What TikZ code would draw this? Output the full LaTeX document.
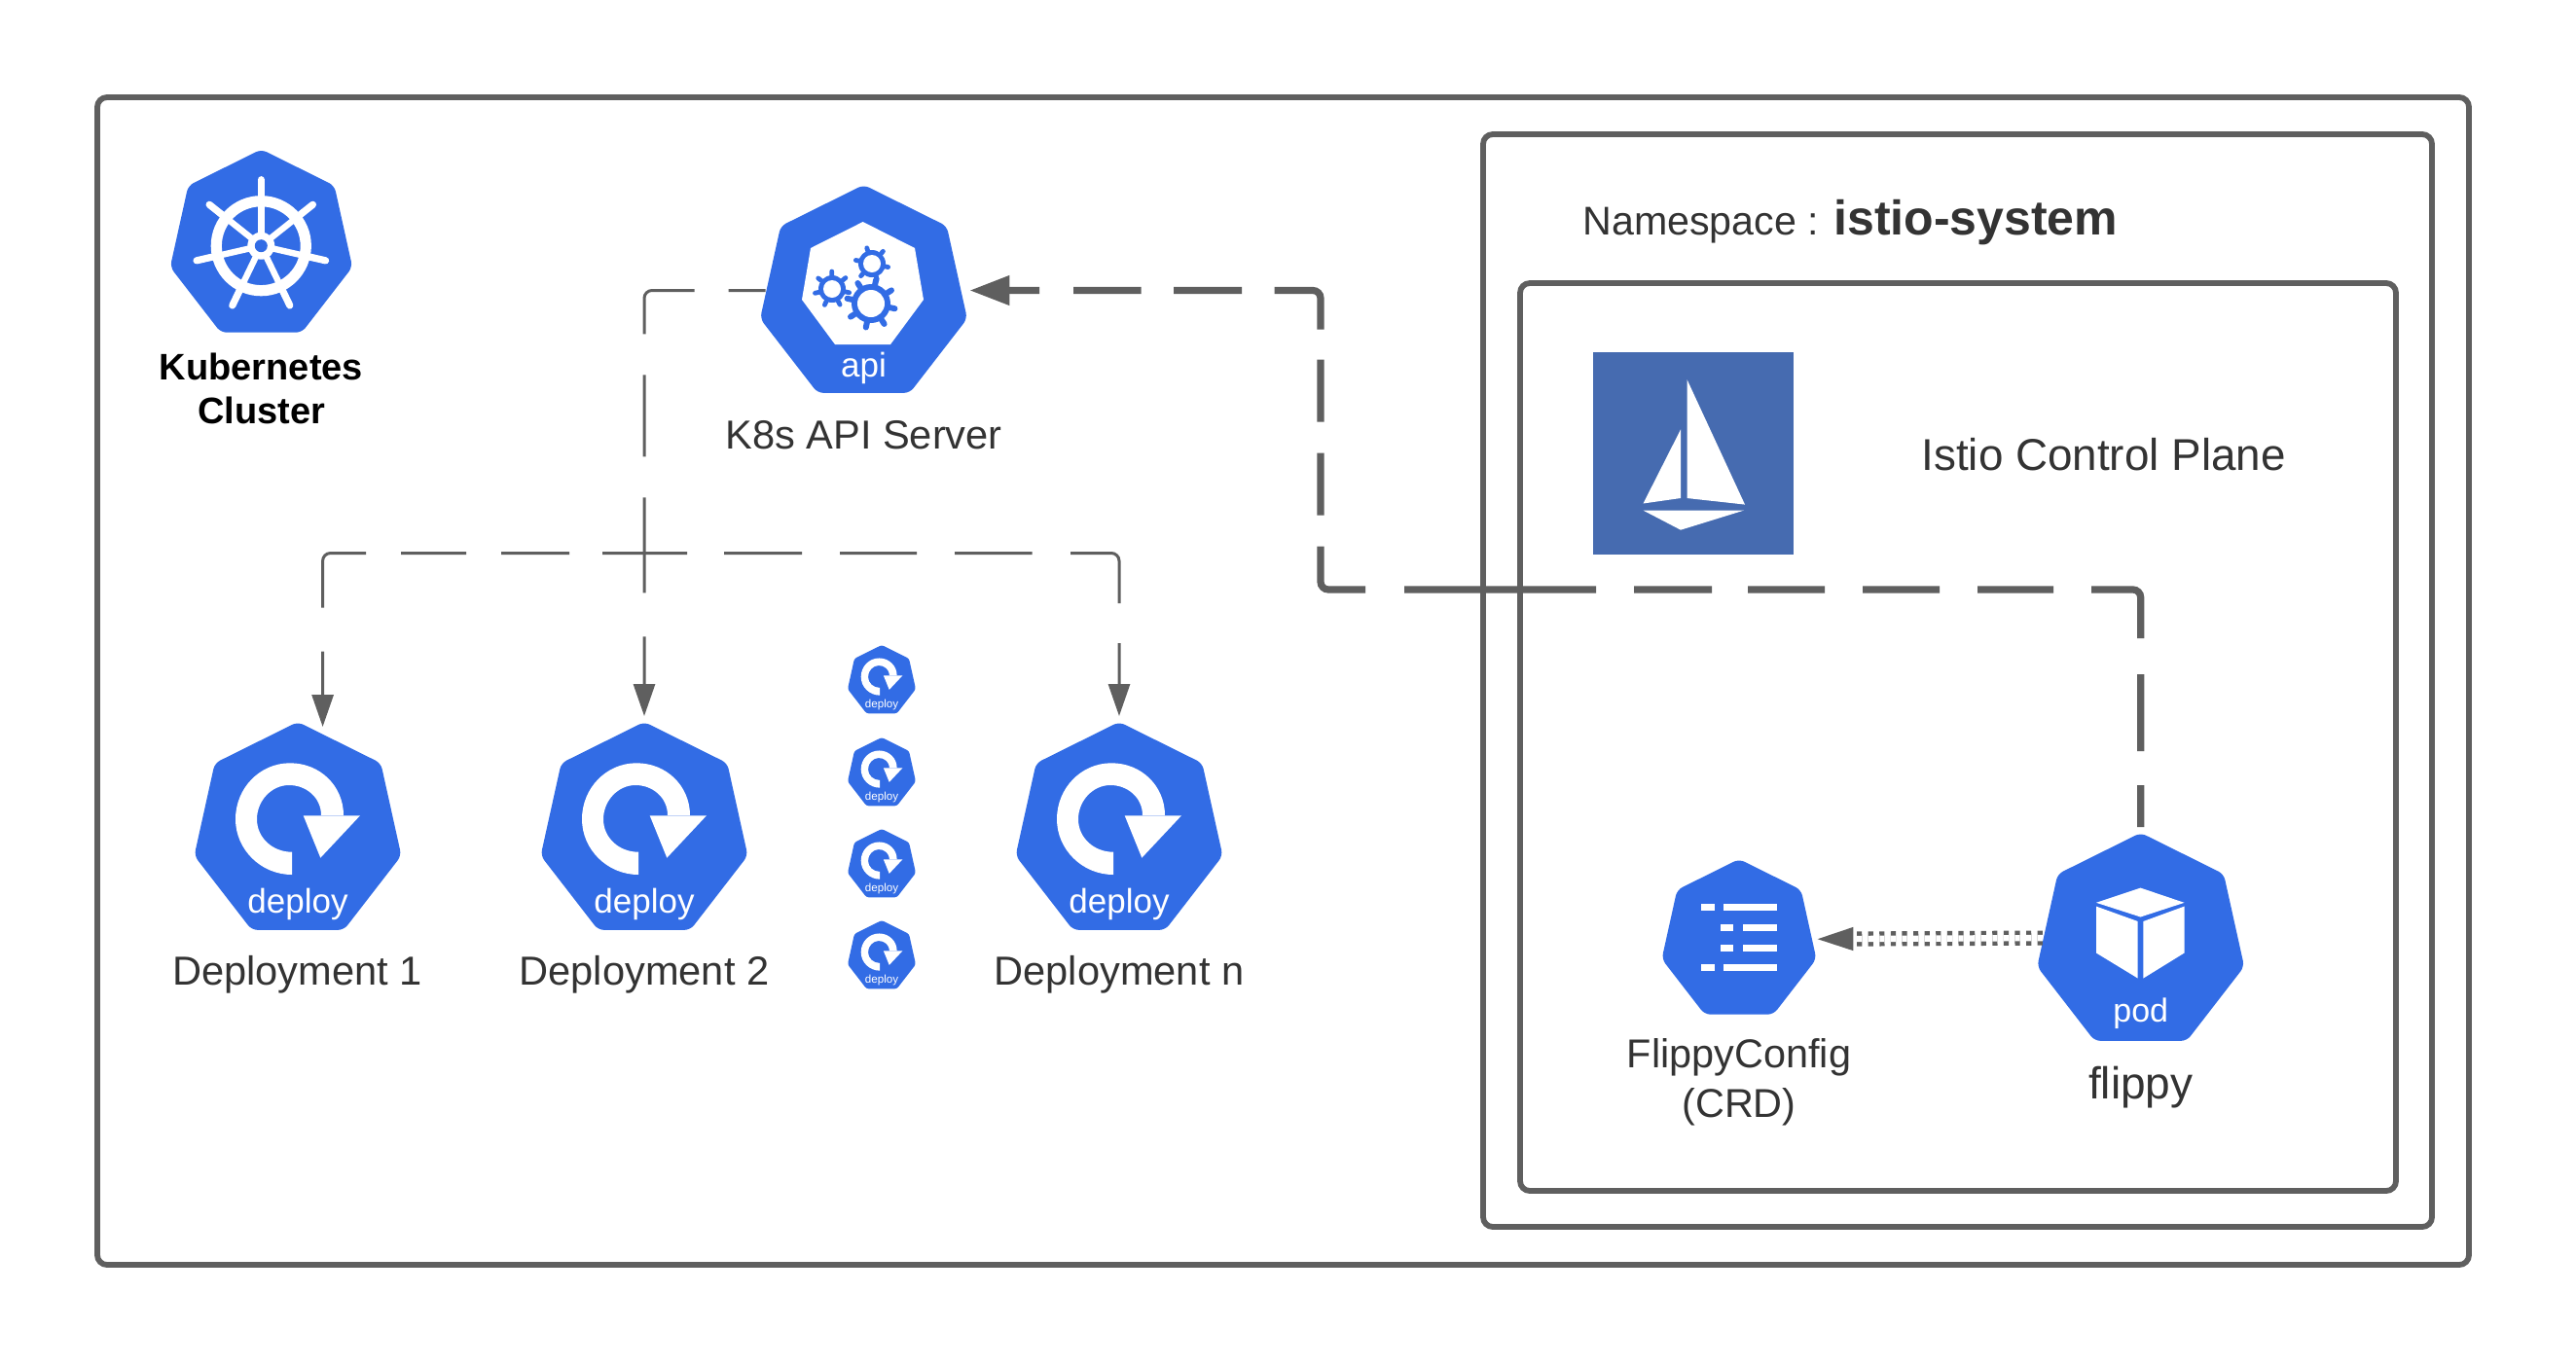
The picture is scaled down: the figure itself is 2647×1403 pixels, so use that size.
\documentclass[tikz,border=0pt]{standalone}
\usepackage{fontspec}
\setmainfont{Liberation Sans}
\usetikzlibrary{shapes.geometric,arrows.meta}
\definecolor{kube}{HTML}{326CE5}
\definecolor{istioblue}{HTML}{466BB0}
\definecolor{linegray}{HTML}{5F5F5F}
\definecolor{ink}{HTML}{333333}
\tikzset{
  hept/.style={regular polygon,regular polygon sides=7,fill=kube,draw=none,inner sep=0pt,outer sep=0pt,minimum size=#1,xscale=0.97,rounded corners=3pt},
  panel/.style={draw=linegray,line width=2.9pt,rounded corners=5pt,fill=none,inner sep=0pt,outer sep=0pt},
  txt/.style={font=\fontsize{#1}{#1}\selectfont,text=ink,inner sep=0pt,anchor=base},
  onblue/.style={font=\fontsize{#1}{#1}\selectfont,text=white,inner sep=0pt,anchor=base},
  bold/.style={font=\fontsize{#1}{#1}\selectfont\bfseries,text=black,inner sep=0pt,anchor=base},
  thinconn/.style={draw=linegray,line width=1.5pt,rounded corners=4pt,-{Triangle[length=16.5pt,width=11pt]}},
  thickconn/.style={draw=linegray,line width=3.6pt,rounded corners=4pt,-{Triangle[length=20.5pt,width=14.5pt]}},
  dotconn/.style={draw=linegray,line width=2.2pt,double=white,double distance=3.2pt,dash pattern=on 2.6pt off 3.2pt,-{Triangle[length=18.5pt,width=11.5pt]}},
}
\newcommand{\deployicon}[5]{%
  \begin{scope}[shift={(#1,#2)},scale=#3]
    \fill[white] (-6,44) .. controls (-38,44) and (-64,18) .. (-64,-13) .. controls (-64,-45) and (-39,-70.7) .. (-8,-70.7) .. controls (23,-70.7) and (47,-47) .. (47,-17) -- (24,-17) .. controls (24,-35) and (9,-48) .. (-9,-48) .. controls (-27,-48) and (-42,-32) .. (-42,-13) .. controls (-42,6) and (-26,20.7) .. (-6,20.7) -- cycle;
    \fill[white] (5.7,-16.7) -- (64,-16.7) -- (23.3,26.7) -- cycle;
  \end{scope}
  \node[onblue=#4] (#5) at (#1,#2+83*#3) {deploy};
}
\newcommand{\gearicon}[7]{% x y hole body outer teeth toothwidth
  \fill[kube] (#1,#2) circle[radius=#4];
  \foreach \t in {1,...,#6}{
    \draw[kube,line width=#7,line cap=round] (#1,#2) ++({\t*360/#6+12}:#4) -- ++({\t*360/#6+12}:{#5-#4-2});
  }
  \fill[white] (#1,#2) circle[radius=#3];
}
\begin{document}
\begin{tikzpicture}[x=0.5pt,y=-0.5pt]
\useasboundingbox (0,0) rectangle (2647,1403);
\fill[white] (0,0) rectangle (2647,1403);

% panels
\node[panel,minimum width=1218.5pt,minimum height=600pt] (cluster) at (1318.5,700) {};
\node[panel,minimum width=487.5pt,minimum height=561.5pt] (namespace) at (2011.5,699.5) {};
\node[panel,minimum width=450pt,minimum height=466.5pt] (plane) at (2012,757.5) {};

% kubernetes logo
\node[hept=99pt] (k8s) at (268.5,252.5) {};
\begin{scope}[shift={(268.3,252.7)}]
  \draw[white,line width=5.6pt] (0,0) circle[radius=46];
  \foreach \k in {0,...,6}{
    \draw[white,line width=3.2pt] (0,0) -- ({-90+\k*360/7}:56);
    \draw[white,line width=3.6pt,line cap=round] ({-90+\k*360/7}:50) -- ({-90+\k*360/7}:68);
  }
  \fill[white] (0,0) circle[radius=14];
  \fill[kube] (0,0) circle[radius=6.5];
\end{scope}
\node[bold=19] (kubetext) at (268.5,390) {Kubernetes};
\node[bold=19] (clustertext) at (268.5,435) {Cluster};

% api server
\node[hept=112.5pt] (api) at (887.5,302.5) {};
\fill[white] (886.7,228) -- (940,255) -- (949,308) -- (915,354) -- (858,354) -- (824,308) -- (833,255) -- cycle;
\gearicon{855}{297}{9}{14}{20}{7}{2.4pt}
\gearicon{896}{271}{9}{14}{19}{6}{2.4pt}
\gearicon{895}{312}{14}{20}{27}{8}{3pt}
\node[onblue=17.5] (apilabel) at (887.5,387) {api};
\node[txt=20.8] (apitext) at (887.5,461.5) {K8s API Server};

% deployments
\node[hept=112.5pt] (d1) at (306,854.5) {};
\node[hept=112.5pt] (d2) at (662,854.5) {};
\node[hept=112.5pt] (dn) at (1150,854.5) {};
\deployicon{306}{855}{1}{17.5}{d1label}
\deployicon{662}{855}{1}{17.5}{d2label}
\deployicon{1150}{855}{1}{17.5}{dnlabel}
\node[txt=20.8] (d1text) at (305.5,1012.5) {Deployment 1};
\node[txt=20.8] (d2text) at (662,1012.5) {Deployment 2};
\node[txt=20.8] (dntext) at (1150,1012.5) {Deployment n};

\node[hept=37pt,rounded corners=1.2pt] (s1) at (906,700) {};
\node[hept=37pt,rounded corners=1.2pt] (s2) at (906,795) {};
\node[hept=37pt,rounded corners=1.2pt] (s3) at (906,889) {};
\node[hept=37pt,rounded corners=1.2pt] (s4) at (906,983) {};
\deployicon{906}{700}{0.333}{5.8}{s1label}
\deployicon{906}{795}{0.333}{5.8}{s2label}
\deployicon{906}{889}{0.333}{5.8}{s3label}
\deployicon{906}{983}{0.333}{5.8}{s4label}

% namespace title
\node[txt=20.6,anchor=base west] (nstext) at (1626,241) {Namespace : \fontsize{25}{25}\selectfont\bfseries istio-system};

% istio logo
\node[fill=istioblue,draw=none,minimum width=103pt,minimum height=104pt,inner sep=0pt,outer sep=0pt] (istio) at (1740,465.5) {};
\fill[white] (1733.5,390) -- (1793,518.6) -- (1733.5,512) -- cycle;
\fill[white] (1727,441.4) -- (1727,512) -- (1688.5,517.5) -- cycle;
\fill[white] (1688.5,524.6) -- (1792,524.6) -- (1727,544.7) -- cycle;
\node[txt=22.9] (planetext) at (2161.6,483) {Istio Control Plane};

% crd
\node[hept=84pt] (crd) at (1787,967) {};
\foreach \yy/\xa/\xb in {932.7/1747.8/1762,932.7/1771/1826,953.9/1768/1781,953.9/1791/1826,974/1768/1781,974/1791/1826,994/1747.8/1762,994/1771/1826}{
  \fill[white] (\xa,\yy-3.5) rectangle (\xb,\yy+3.5);
}
\node[txt=20.7] (crdtext) at (1787,1097) {FlippyConfig};
\node[txt=20.7] (crdtext2) at (1787,1148) {(CRD)};

% pod
\node[hept=112.5pt] (pod) at (2199.7,968.5) {};
\fill[white] (2199.5,912.6) -- (2244.5,927.8) -- (2199.5,942.5) -- (2154,927.8) -- cycle;
\fill[white] (2154,931.6) -- (2196.7,947) -- (2196.7,1005.5) -- (2154,979.5) -- cycle;
\fill[white] (2202.4,947) -- (2244.5,931.6) -- (2244.5,979.5) -- (2202.4,1005.5) -- cycle;
\node[onblue=17] (podlabel) at (2199.7,1050) {pod};
\node[txt=23] (podtext) at (2199.7,1129) {flippy};

% connectors
\coordinate (bus) at (662,568.5);
\coordinate (elbow) at (1357,606);
\draw[thinconn,shorten >=3pt,dash pattern=on 19pt off 17.5pt on 46.5pt off 21pt on 42pt off 21pt on 49pt off 22.5pt on 60pt] ([yshift=2pt]api.west) -| (d2.north);
\draw[thinconn,dash pattern=on 21.5pt off 17pt on 35pt off 18pt on 33.5pt off 18pt on 48.5pt off 22.5pt on 60pt] (bus) -| ([xshift=12.8pt,yshift=-2.5pt]d1.north);
\draw[thinconn,shorten >=3pt,dash pattern=on 22pt off 19pt on 40pt off 19.5pt on 39.5pt off 19.5pt on 39.8pt off 19.7pt on 49pt off 20.5pt on 60pt] (bus) -| (dn.north);
\draw[thickconn,dash pattern=on 21.5pt off 17.5pt on 39.5pt off 18.5pt on 48.5pt off 19.5pt on 39pt off 19.5pt on 39.5pt off 19.5pt on 39.5pt off 18.5pt on 40pt off 19.5pt on 98.5pt off 20pt on 43.5pt off 16pt on 32pt off 16pt on 32pt off 15.5pt on 42pt off 16.8pt on 35pt off 16.7pt on 34.8pt off 17.5pt on 60pt] ([yshift=3pt]pod.north) |- (elbow) |- ([xshift=4pt,yshift=2pt]api.east);
\draw[dotconn] ([yshift=2.2pt]pod.west) -- ([xshift=2.5pt,yshift=0.9pt]crd.east);
\end{tikzpicture}
\end{document}
